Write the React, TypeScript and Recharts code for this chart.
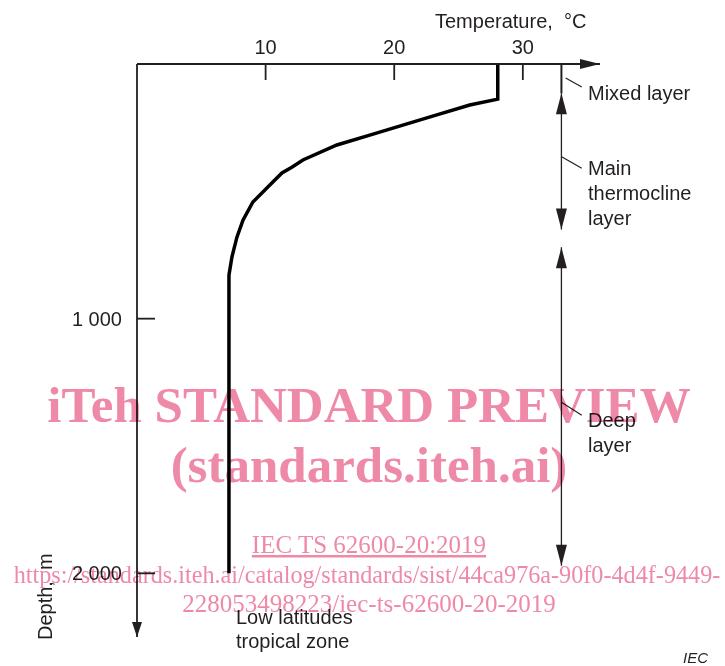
import React from 'react';
import { LineChart, Line, XAxis, YAxis, ReferenceLine, ReferenceDot } from 'recharts';

// Temperature profile (low latitudes, tropical zone)
const temperatureC = [28.05, 28.05, 25.87, 23.31, 20.67, 18.1, 15.54, 12.9, 12.04, 11.27, 10.33, 9.01, 8.24, 7.77, 7.38, 7.15, 7.15];
const depthM = [0, 138, 161, 200, 240, 279, 318, 377, 405, 428, 475, 542, 613, 680, 758, 829, 2000];

const temperatureTicks = [10, 20, 30];
const depthTicks = [1000, 2000];
const depthTickLabels = ['1 000', '2 000'];

const temperatureMax = 36;
const depthMax = 2250;

// Layer bracket (at 33 °C on the temperature scale), depths in m
const layerMarkerTemp = 33;
const mixedLayer = [0, 115];
const thermoclineLayer = [115, 650];
const deepLayer = [720, 1970];
// Leader lines: [t1, d1, t2, d2]
const leaderMixed = [33.33, 55, 34.58, 90];
const leaderThermocline = [33.05, 365, 34.58, 409];
const leaderDeep = [33.0, 1328, 34.58, 1379];

const profile = temperatureC.map((t, i) => ({ temp: t, depth: depthM[i] }));

const INK = '#231f20';
const SANS = '"Liberation Sans", Arial, Helvetica, sans-serif';
const SERIF = '"Liberation Serif", "Times New Roman", serif';
const PINK = '#ee8aa8';

const TempTick = (props: any) => {
  const { x, y, payload } = props;
  return (
    <g>
      <line x1={x} x2={x} y1={y + 10} y2={y + 26} stroke={INK} strokeWidth={1.8} />
      <text x={x} y={y} textAnchor="middle" fontSize={20} fill={INK} fontFamily={SANS}>
        {payload.value}
      </text>
    </g>
  );
};

const DepthTick = (props: any) => {
  const { x, y, payload } = props;
  const idx = depthTicks.indexOf(payload.value);
  return (
    <g>
      <line x1={x + 15} x2={x + 33} y1={y} y2={y} stroke={INK} strokeWidth={1.8} />
      <text x={x} y={y + 7} textAnchor="end" fontSize={20} fill={INK} fontFamily={SANS}>
        {idx >= 0 ? depthTickLabels[idx] : payload.value}
      </text>
    </g>
  );
};

const arrow = (dir: 'up' | 'down' | 'right', len: number, half: number) => (props: any) => {
  const { cx, cy } = props;
  let d = '';
  if (dir === 'right') d = `M${cx},${cy} L${cx - len},${cy - half} L${cx - len},${cy + half} Z`;
  if (dir === 'down') d = `M${cx},${cy} L${cx - half},${cy - len} L${cx + half},${cy - len} Z`;
  if (dir === 'up') d = `M${cx},${cy} L${cx - half},${cy + len} L${cx + half},${cy + len} Z`;
  return <path d={d} fill={INK} stroke="none" />;
};

const seg = (a: number[]) => [
  { x: a[0], y: a[1] },
  { x: a[2], y: a[3] },
];

export default function App() {
  return (
    <div style={{ position: 'absolute', left: 0, top: 0, width: 725, height: 666, background: '#fff', overflow: 'hidden' }}>
      <LineChart
        width={725}
        height={666}
        data={profile}
        margin={{ top: 44, left: 77, right: 125, bottom: 29 }}
      >
        <XAxis
          type="number"
          dataKey="temp"
          orientation="top"
          height={20}
          domain={[0, temperatureMax]}
          allowDataOverflow
          ticks={temperatureTicks}
          tickSize={0}
          tickMargin={10}
          tickLine={false}
          tick={<TempTick />}
          axisLine={{ stroke: INK, strokeWidth: 1.8 }}
        />
        <YAxis
          type="number"
          dataKey="depth"
          reversed
          width={60}
          domain={[0, depthMax]}
          allowDataOverflow
          ticks={depthTicks}
          tickSize={0}
          tickMargin={15}
          tickLine={false}
          tick={<DepthTick />}
          axisLine={{ stroke: INK, strokeWidth: 1.8 }}
        />
        <ReferenceDot x={temperatureMax} y={0} r={0} ifOverflow="visible" shape={arrow('right', 20, 5)} />
        <ReferenceDot x={0} y={depthMax} r={0} ifOverflow="visible" shape={arrow('down', 15, 5)} />

        <ReferenceLine segment={[{ x: layerMarkerTemp, y: mixedLayer[0] }, { x: layerMarkerTemp, y: mixedLayer[1] }]} stroke={INK} strokeWidth={2} />
        <ReferenceLine segment={[{ x: layerMarkerTemp, y: thermoclineLayer[0] }, { x: layerMarkerTemp, y: thermoclineLayer[1] }]} stroke={INK} strokeWidth={1.3} />
        <ReferenceLine segment={[{ x: layerMarkerTemp, y: deepLayer[0] }, { x: layerMarkerTemp, y: deepLayer[1] }]} stroke={INK} strokeWidth={1.3} />
        <ReferenceDot x={layerMarkerTemp} y={thermoclineLayer[0]} r={0} shape={arrow('up', 21, 5.5)} />
        <ReferenceDot x={layerMarkerTemp} y={thermoclineLayer[1]} r={0} shape={arrow('down', 21, 5.5)} />
        <ReferenceDot x={layerMarkerTemp} y={deepLayer[0]} r={0} shape={arrow('up', 21, 5.5)} />
        <ReferenceDot x={layerMarkerTemp} y={deepLayer[1]} r={0} shape={arrow('down', 21, 5.5)} />
        <ReferenceLine segment={seg(leaderMixed)} stroke={INK} strokeWidth={1.2} />
        <ReferenceLine segment={seg(leaderThermocline)} stroke={INK} strokeWidth={1.2} />
        <ReferenceLine segment={seg(leaderDeep)} stroke={INK} strokeWidth={1.2} />

        <Line
          type="linear"
          dataKey="depth"
          stroke="#000"
          strokeWidth={3.5}
          dot={false}
          activeDot={false}
          isAnimationActive={false}
        />
      </LineChart>

      <svg
        width={725}
        height={666}
        style={{ position: 'absolute', left: 0, top: 0, pointerEvents: 'none' }}
      >
        <g fontFamily={SANS} fontSize={20} fill={INK}>
          <text x={435} y={28}>Temperature,{'\u00a0'} °C</text>
          <text x={588} y={100}>Mixed layer</text>
          <text x={588} y={175}>Main</text>
          <text x={588} y={200}>thermocline</text>
          <text x={588} y={225}>layer</text>
          <text x={588} y={427}>Deep</text>
          <text x={588} y={452}>layer</text>
          <text x={236} y={624}>Low latitudes</text>
          <text x={236} y={648}>tropical zone</text>
          <text x={52} y={640} transform="rotate(-90 52 640)">Depth,{'\u00a0'} m</text>
          <text x={708} y={663} textAnchor="end" fontSize={15} fontStyle="italic">IEC</text>
        </g>
        <g fontFamily={SERIF} fill={PINK} textAnchor="middle" style={{ mixBlendMode: 'multiply' }}>
          <text x={369} y={422} fontSize={51} fontWeight="bold">iTeh STANDARD PREVIEW</text>
          <text x={369} y={482} fontSize={51} fontWeight="bold">(standards.iteh.ai)</text>
          <text x={369} y={553} fontSize={25} textDecoration="underline">IEC TS 62600-20:2019</text>
          <text x={367} y={583} fontSize={24.2}>https://standards.iteh.ai/catalog/standards/sist/44ca976a-90f0-4d4f-9449-</text>
          <text x={369} y={612} fontSize={25}>228053498223/iec-ts-62600-20-2019</text>
        </g>
      </svg>
    </div>
  );
}
